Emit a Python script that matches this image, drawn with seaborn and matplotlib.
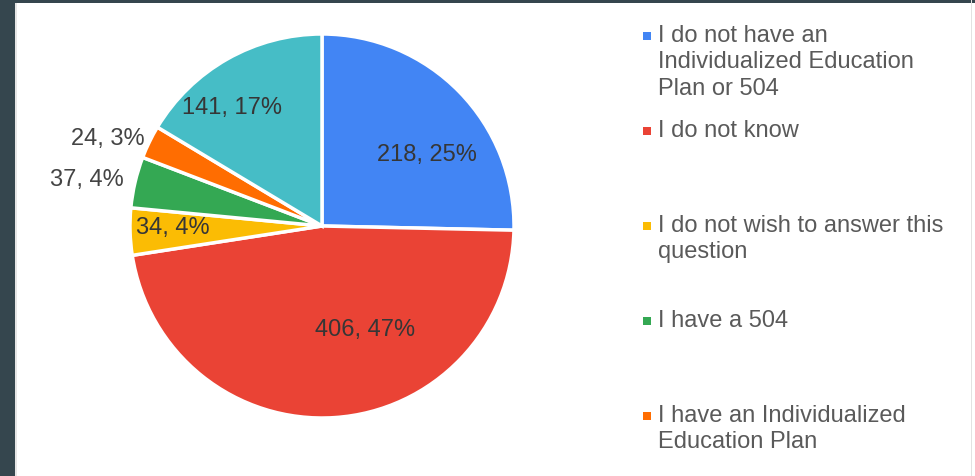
import matplotlib
matplotlib.use("Agg")
import matplotlib.pyplot as plt
from matplotlib.patches import Rectangle
import numpy as np
import seaborn as sns

# Survey responses: IEP / 504 status
categories = [
    "I do not have an\nIndividualized Education\nPlan or 504",
    "I do not know",
    "I do not wish to answer this\nquestion",
    "I have a 504",
    "I have an Individualized\nEducation Plan",
    "Other",
]
counts = [218, 406, 34, 37, 24, 141]
percent_labels = [25, 47, 4, 4, 3, 17]
legend_entries = 5  # entries visible in the legend panel

palette = sns.color_palette(["#4285f4", "#ea4335", "#fbbc04", "#34a853", "#ff6d01", "#46bdc6"])

sns.set_theme(style="white")
plt.rcParams["font.family"] = ["Liberation Sans", "DejaVu Sans"]

W, H = 975, 476
fig = plt.figure(figsize=(W / 100, H / 100), dpi=100, facecolor="#35464e")

# white chart panel inside the dark frame
fig.add_artist(Rectangle((15 / W, 0), (W - 15) / W, (H - 3) / H,
                         transform=fig.transFigure, facecolor="white",
                         edgecolor="none", zorder=0))
fig.add_artist(Rectangle((15 / W, 0), 1.5 / W, (H - 3) / H,
                         transform=fig.transFigure, facecolor="#e6e6e6",
                         edgecolor="none", zorder=0.5))
fig.add_artist(Rectangle((971 / W, 0), 1.2 / W, 1,
                         transform=fig.transFigure, facecolor="#e2e2e2",
                         edgecolor="none", zorder=0.5))

# pie axes: centre at (322, 226) px from top-left, radius 192 px
cx, cy, r_px, half = 322, H - 226, 192, 205
ax = fig.add_axes([(cx - half) / W, (cy - half) / H, 2 * half / W, 2 * half / H])
ax.set_facecolor("none")
wedges, _ = ax.pie(counts, colors=palette, startangle=90, counterclock=False,
                   radius=1.0,
                   wedgeprops=dict(edgecolor="white", linewidth=2.5))
lim = half / r_px
ax.set_xlim(-lim, lim)
ax.set_ylim(-lim, lim)
ax.set_aspect("equal")
ax.axis("off")

# label placement: radial distance and angular nudge from each wedge's mid-angle
label_radius = [0.66, 0.586, 0.776, 1.06, 1.03, 0.773]
label_turn = [-10.3, 18.8, -1.0, 0.0, 0.0, 7.7]
label_inside = [True, True, True, False, False, True]

for w, n, p, rr, turn, inside in zip(wedges, counts, percent_labels,
                                     label_radius, label_turn, label_inside):
    mid = np.deg2rad((w.theta1 + w.theta2) / 2 + turn)
    x, y = rr * np.cos(mid), rr * np.sin(mid)
    ax.text(x, y, f"{n}, {p}%", ha="center" if inside else "right",
            va="center", fontsize=17, color="#363636" if inside else "#444444")

# legend column, laid out in pixel space (y grows downward)
lax = fig.add_axes([0, 0, 1, 1])
lax.set_xlim(0, W)
lax.set_ylim(H, 0)
lax.axis("off")
lax.set_facecolor("none")
first_y, slot = 35, 95
for i in range(legend_entries):
    y = first_y + i * slot
    lax.scatter([646.5], [y + 1], marker="s", s=26, color=palette[i], linewidths=0)
    lax.text(658, y - 10, categories[i], ha="left", va="top", fontsize=17,
             color="#5a5a5a", linespacing=1.26)

fig.savefig("out.png", dpi=100, facecolor=fig.get_facecolor())
